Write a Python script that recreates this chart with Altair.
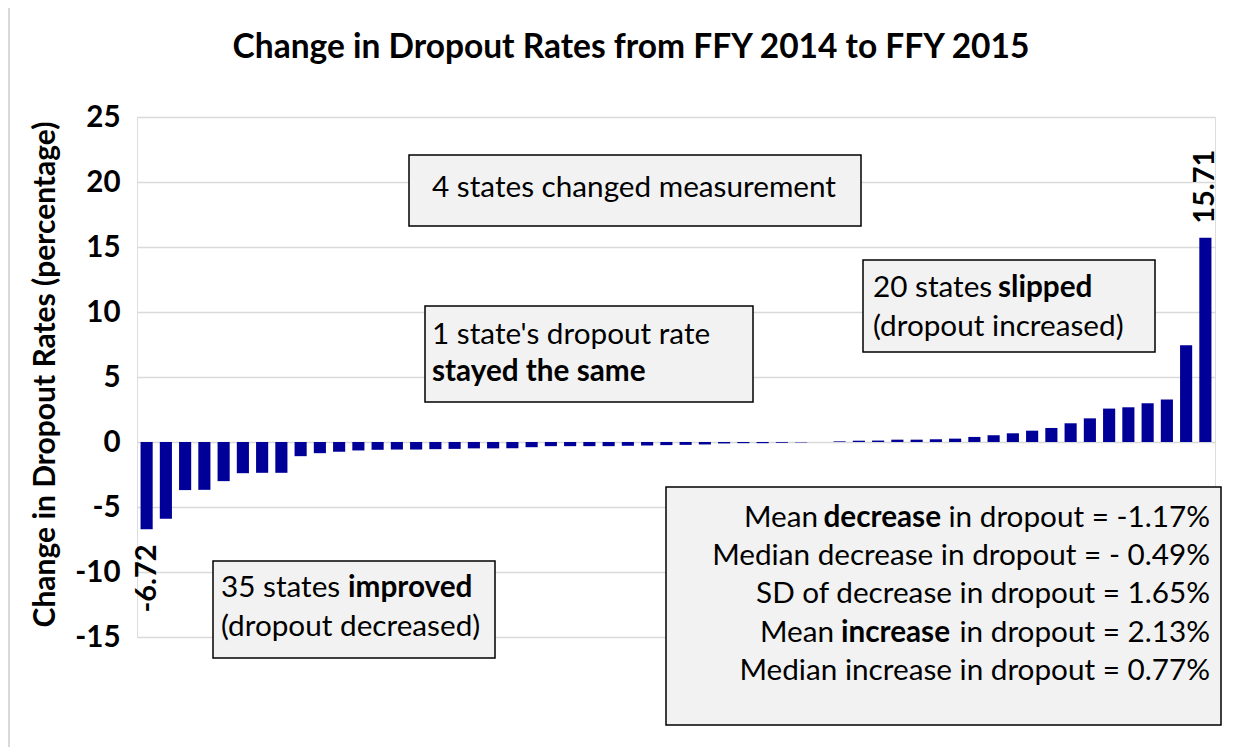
import altair as alt
import pandas as pd

# ---------------- data ----------------
change = [
    -6.72, -5.91, -3.70, -3.68, -3.01, -2.40, -2.37, -2.37, -1.09, -0.86,
    -0.75, -0.65, -0.60, -0.58, -0.58, -0.55, -0.53, -0.49, -0.49, -0.48,
    -0.40, -0.32, -0.32, -0.32, -0.32, -0.29, -0.27, -0.24, -0.22, -0.19,
    -0.11, -0.09, -0.09, -0.06, -0.03, 0.00, 0.05, 0.10, 0.11, 0.18,
    0.18, 0.21, 0.26, 0.39, 0.52, 0.67, 0.87, 1.08, 1.44, 1.82,
    2.57, 2.67, 2.98, 3.26, 7.44, 15.71,
]
states = [f"State {i + 1}" for i in range(len(change))]
y_ticks = [-15, -10, -5, 0, 5, 10, 15, 20, 25]
y_domain = [-15, 25]

title_text = "Change in Dropout Rates from FFY 2014 to FFY 2015"
y_title = "Change in Dropout Rates (percentage)"

box_measure = ["4 states changed measurement"]
box_same = ["1 state's dropout rate", "stayed the same"]
box_slipped = ["20 states", "slipped", "(dropout increased)"]
box_improved = ["35 states", "improved", "(dropout decreased)"]
stats_lines = [
    ["Mean", "decrease", "in dropout = -1.17%"],
    ["Median decrease in dropout = - 0.49%"],
    ["SD of decrease in dropout = 1.65%"],
    ["Mean", "increase", "in dropout = 2.13%"],
    ["Median increase in dropout = 0.77%"],
]

df = pd.DataFrame({"state": states, "change": change})

# ---------------- style ----------------
FONT = "Lato"
W, H = 1078, 520
BAR = "#000099"
TXT = 29.7
MINUS = "\u2212"

x_enc = alt.X("state:N", sort=None, axis=None,
              scale=alt.Scale(paddingInner=0.37, paddingOuter=0.185))
y_scale = alt.Scale(domain=y_domain, nice=False, zero=False)

bars = alt.Chart(df).mark_bar(color=BAR).encode(
    x=x_enc,
    y=alt.Y("change:Q", scale=y_scale,
            axis=alt.Axis(values=y_ticks, title=y_title, labelExpr="toString(datum.value)",
                          titleFont=FONT, titleFontSize=30, titleFontWeight="bold",
                          titleColor="black", titleAngle=270, titleX=-92, titleY=257,
                          titleAlign="center", titleBaseline="middle",
                          labelFont=FONT, labelFontSize=29.5, labelFontWeight="bold",
                          labelColor="black", labelPadding=17, ticks=False, tickSize=0,
                          domain=False, grid=True, gridColor="#d9d9d9", gridWidth=1.5)),
)

lab_expr = f"replace(format(datum.change, '.2f'), '{MINUS}', '-')"

hi = alt.Chart(df).transform_filter(f"datum.change == {max(change)}").transform_calculate(
    lab=lab_expr
).mark_text(
    font=FONT, fontSize=29, fontWeight="bold", angle=270, align="left",
    baseline="middle", dx=14, color="black"
).encode(x=x_enc, y=alt.Y("change:Q", scale=y_scale), text="lab:N")

lo = alt.Chart(df).transform_filter(f"datum.change == {min(change)}").transform_calculate(
    lab=lab_expr
).mark_text(
    font=FONT, fontSize=29, fontWeight="bold", angle=270, align="right",
    baseline="middle", dx=-15, color="black"
).encode(x=x_enc, y=alt.Y("change:Q", scale=y_scale), text="lab:N")

one = alt.Data(values=[{"k": 1}])


def box(x1, x2, y1, y2):
    return alt.Chart(one).mark_rect(fill="#f2f2f2", stroke="black", strokeWidth=1.5).encode(
        x=alt.value(x1), x2=alt.value(x2), y=alt.value(y1), y2=alt.value(y2))


def label(t, x, y, align="left", bold=False, size=TXT, baseline="alphabetic"):
    return alt.Chart(one).mark_text(
        font=FONT, fontSize=size, fontWeight="bold" if bold else "normal",
        align=align, baseline=baseline, color="black"
    ).encode(x=alt.value(x), y=alt.value(y), text=alt.value(t))


border = alt.Chart(one).mark_rect(filled=False, stroke="#d9d9d9", strokeWidth=2).encode(
    x=alt.value(-128), x2=alt.value(1140), y=alt.value(-130), y2=alt.value(660))

title = label(title_text, 494, -69, align="center", bold=True, size=33.5, baseline="middle")

layers = [border, bars, hi, lo, title]

layers += [box(272, 724, 38, 109), label(box_measure[0], 497, 80, align="center")]
layers += [box(288, 616, 189, 285),
           label(box_same[0], 295, 227), label(box_same[1], 295, 264, bold=True)]
layers += [box(726, 1018, 143, 235),
           label(box_slipped[0], 736, 180), label(box_slipped[1], 861, 180, bold=True),
           label(box_slipped[2], 736, 219)]
layers += [box(76, 358, 444, 541),
           label(box_improved[0], 84, 480), label(box_improved[1], 211, 480, bold=True),
           label(box_improved[2], 84, 519)]

layers += [box(529, 1084, 370, 608)]
stat_y = [410, 448, 486, 525, 563]
layers += [label(stats_lines[0][2], 1073, stat_y[0], align="right"),
           label(stats_lines[0][1], 804, stat_y[0], align="right", bold=True),
           label(stats_lines[0][0], 681, stat_y[0], align="right")]
layers += [label(stats_lines[1][0], 1073, stat_y[1], align="right")]
layers += [label(stats_lines[2][0], 1073, stat_y[2], align="right")]
layers += [label(stats_lines[3][2], 1073, stat_y[3], align="right"),
           label(stats_lines[3][1], 813, stat_y[3], align="right", bold=True),
           label(stats_lines[3][0], 697, stat_y[3], align="right")]
layers += [label(stats_lines[4][0], 1073, stat_y[4], align="right")]

chart = alt.layer(*layers).properties(
    width=W, height=H,
    autosize=alt.AutoSizeParams(type="none"),
    padding={"left": 129, "top": 109, "right": 29, "bottom": 110},
).configure_view(stroke=None).configure(background="white")

chart.save("out.html", embed_options={"renderer": "svg", "actions": False})
